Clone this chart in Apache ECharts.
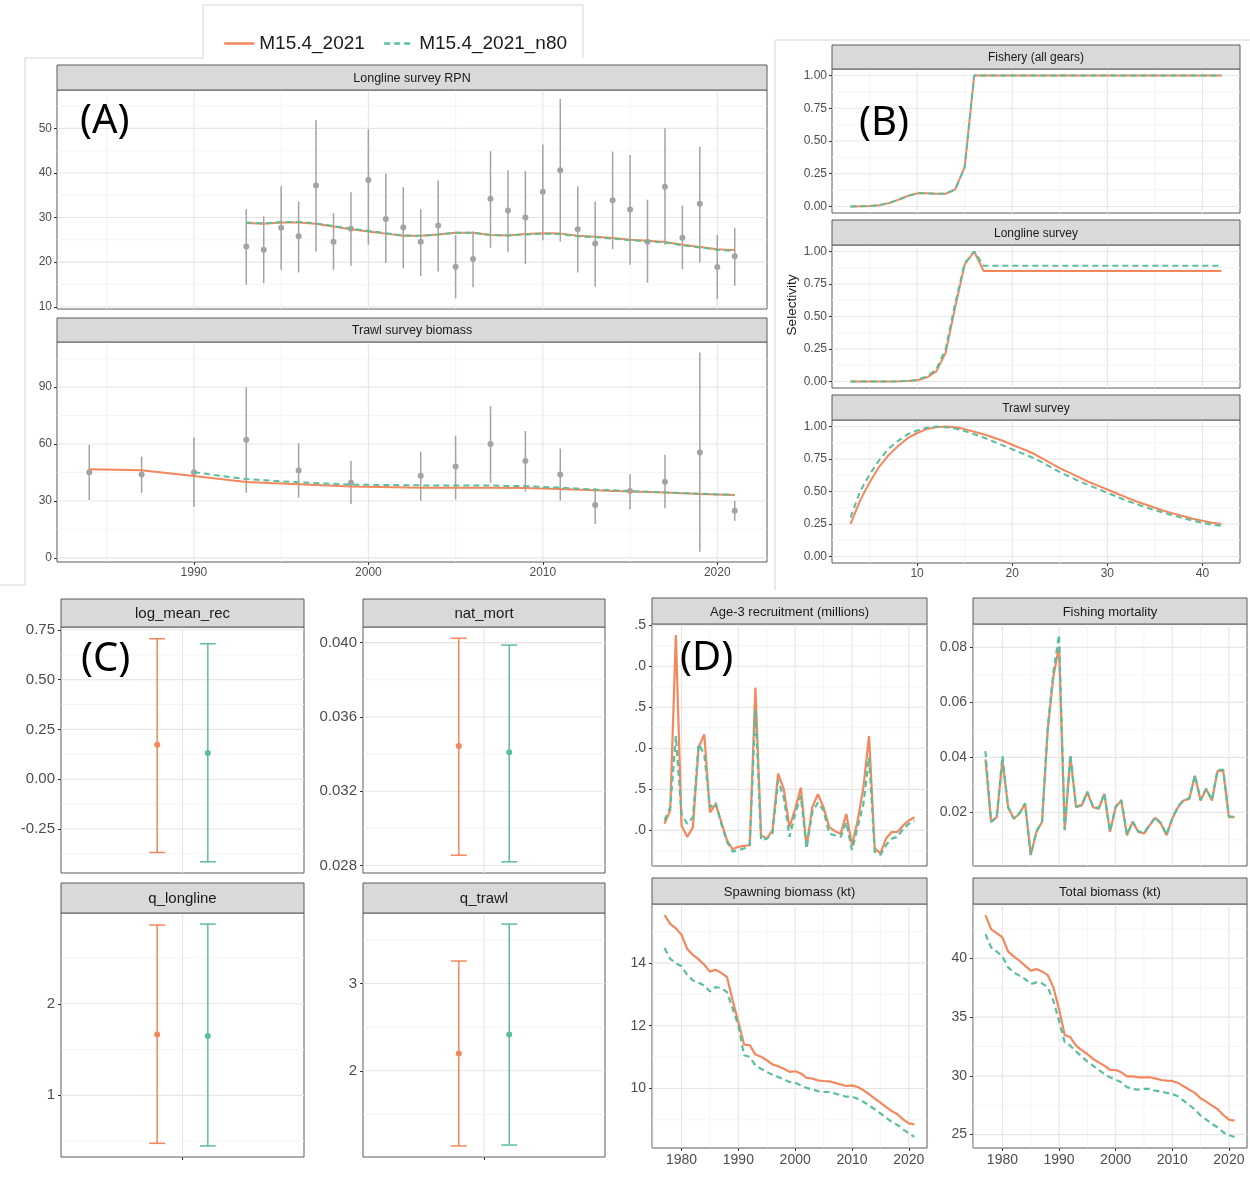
<!DOCTYPE html>
<html>
<head>
<meta charset="utf-8">
<script src="https://cdn.jsdelivr.net/npm/echarts@6/dist/echarts.min.js"></script>
<style>
html, body { margin: 0; padding: 0; background: #fff; }
#main { width: 1250px; height: 1177px; }
</style>
</head>
<body>
<div id="main"></div>
<script>
var FONT = '"Liberation Sans", Arial, sans-serif';
var ORANGE = '#F4875C', GREEN = '#5BBE9C', GREY = '#A3A3A3';
var M1 = 'M15.4_2021', M2 = 'M15.4_2021_n80';

// (A) longline survey RPN
var rpnYears = [1993,1994,1995,1996,1997,1998,1999,2000,2001,2002,2003,2004,2005,2006,2007,2008,2009,2010,2011,2012,2013,2014,2015,2016,2017,2018,2019,2020,2021];
var rpnObs = [23.5,22.8,27.7,25.8,37.2,24.6,27.5,38.4,29.7,27.8,24.6,28.2,19.0,20.7,34.2,31.6,30.0,35.8,40.6,27.4,24.2,33.9,31.8,24.6,36.9,25.5,33.1,18.9,21.3];
var rpnLo = [14.9,15.3,18.3,17.7,22.4,18.3,19.2,23.9,19.8,18.6,16.9,17.9,11.9,14.4,23.2,22.2,19.6,24.9,24.6,17.7,14.5,22.9,19.4,15.4,23.9,18.4,19.9,11.7,14.7];
var rpnHi = [31.9,30.3,37.0,33.6,51.9,31.0,35.7,49.8,39.8,36.8,31.9,38.3,26.1,26.9,44.9,40.6,40.4,46.4,56.6,37.0,33.6,44.8,44.0,34.0,50.0,32.7,45.9,26.1,27.7];
var rpnFit = [28.8,28.6,28.9,28.9,28.6,28.0,27.4,26.9,26.4,25.9,25.9,26.2,26.6,26.6,26.1,26.0,26.3,26.5,26.4,25.9,25.7,25.4,25.0,24.8,24.5,23.9,23.4,22.9,22.7];
var rpnFitN80 = [28.9,28.7,29.0,29.0,28.7,28.1,27.5,27.0,26.5,26.0,25.9,26.2,26.6,26.6,26.1,26.0,26.2,26.4,26.3,25.8,25.6,25.3,24.9,24.7,24.4,23.8,23.3,22.8,22.5];

// (A) trawl survey biomass
var trawlYears = [1984,1987,1990,1993,1996,1999,2003,2005,2007,2009,2011,2013,2015,2017,2019,2021];
var trawlObs = [45.1,43.9,45.1,62.2,46.0,39.6,43.3,48.1,60.0,51.1,43.9,27.8,35.2,40.1,55.6,24.8];
var trawlLo = [30.5,34.3,26.9,34.3,31.7,28.4,30.1,30.8,39.6,34.9,30.1,17.8,25.6,26.1,3.2,19.5];
var trawlHi = [59.5,53.4,63.4,89.8,60.4,51.1,56.0,64.4,80.1,66.9,57.6,37.0,44.2,54.3,108.3,30.1];
var trawlFit = [46.7,46.2,43.2,40.0,38.8,37.6,37.0,37.0,37.0,36.8,36.3,35.6,35.0,34.4,33.7,33.1];
var trawlFitN80 = [null,null,45.1,41.5,39.8,38.6,38.2,38.2,38.1,37.8,37.0,36.0,35.2,34.5,33.8,33.1];

// (B) selectivity at age
var ages = [3,4,5,6,7,8,9,10,11,12,13,14,15,16,17,18,19,20,21,22,23,24,25,26,27,28,29,30,31,32,33,34,35,36,37,38,39,40,41,42];
var selFish = [0,0.001,0.003,0.01,0.025,0.05,0.08,0.1,0.1,0.097,0.097,0.13,0.3,1,1,1,1,1,1,1,1,1,1,1,1,1,1,1,1,1,1,1,1,1,1,1,1,1,1,1];
var selFishN80 = [0,0.001,0.003,0.01,0.025,0.05,0.08,0.1,0.1,0.097,0.097,0.13,0.3,1,1,1,1,1,1,1,1,1,1,1,1,1,1,1,1,1,1,1,1,1,1,1,1,1,1,1];
var selLL = [0,0,0,0,0,0.001,0.003,0.01,0.03,0.076,0.22,0.57,0.9,1,0.85,0.85,0.85,0.85,0.85,0.85,0.85,0.85,0.85,0.85,0.85,0.85,0.85,0.85,0.85,0.85,0.85,0.85,0.85,0.85,0.85,0.85,0.85,0.85,0.85,0.85];
var selLLN80 = [0,0,0,0,0,0.001,0.004,0.013,0.04,0.09,0.25,0.6,0.91,1,0.89,0.89,0.89,0.89,0.89,0.89,0.89,0.89,0.89,0.89,0.89,0.89,0.89,0.89,0.89,0.89,0.89,0.89,0.89,0.89,0.89,0.89,0.89,0.89,0.89,0.89];
var selTrawl = [0.25,0.43,0.57,0.69,0.78,0.85,0.91,0.95,0.98,0.995,1,0.995,0.98,0.96,0.94,0.915,0.89,0.86,0.83,0.8,0.76,0.72,0.68,0.645,0.61,0.575,0.545,0.515,0.485,0.455,0.425,0.4,0.375,0.35,0.33,0.31,0.29,0.275,0.26,0.25];
var selTrawlN80 = [0.3,0.5,0.63,0.74,0.83,0.89,0.94,0.97,0.99,1,0.995,0.985,0.965,0.94,0.915,0.885,0.855,0.825,0.795,0.765,0.73,0.69,0.65,0.615,0.58,0.55,0.52,0.49,0.46,0.43,0.405,0.38,0.355,0.335,0.315,0.295,0.275,0.26,0.245,0.235];

// (C) parameter estimates with intervals
var paramNames = ['log_mean_rec','nat_mort','q_longline','q_trawl'];
var estM15 = [0.173, 0.03443, 1.664, 2.197];
var loM15 = [-0.368, 0.02856, 0.476, 1.14];
var hiM15 = [0.705, 0.04023, 2.86, 3.257];
var estN80 = [0.132, 0.0341, 1.649, 2.416];
var loN80 = [-0.415, 0.0282, 0.448, 1.15];
var hiN80 = [0.68, 0.03987, 2.87, 3.68];

// (D) time series
var years = [];
for (var yr = 1977; yr <= 2021; yr++) years.push(yr);
var recM15 = [1.08,1.24,3.38,1.06,0.92,1.04,2.01,2.17,1.22,1.32,1.10,0.88,0.77,0.80,0.81,0.82,2.74,0.94,0.90,1.00,1.69,1.50,1.04,1.26,1.52,0.80,1.28,1.44,1.28,1.04,0.99,0.96,1.20,0.82,1.12,1.52,2.15,0.78,0.72,0.90,0.98,0.98,1.06,1.12,1.16];
var recN80 = [1.12,1.28,2.15,1.20,1.08,1.16,2.05,1.93,1.28,1.34,1.08,0.86,0.74,0.76,0.78,0.82,2.47,0.88,0.90,0.96,1.61,1.40,0.92,1.20,1.42,0.78,1.22,1.34,1.24,0.96,0.94,0.92,1.10,0.76,1.04,1.32,1.89,0.74,0.70,0.82,0.90,0.92,1.02,1.08,1.12];
var fM15 = [0.0393,0.0165,0.0183,0.039,0.0219,0.0177,0.0195,0.0231,0.0045,0.0129,0.0165,0.050,0.0694,0.0802,0.0135,0.0405,0.0219,0.0225,0.0273,0.0219,0.0213,0.0267,0.0129,0.0219,0.0243,0.0117,0.0165,0.0129,0.0123,0.0153,0.018,0.0159,0.0117,0.0177,0.0219,0.0243,0.0249,0.0333,0.0243,0.0285,0.0243,0.0351,0.0351,0.0183,0.0183];
var fN80 = [0.0423,0.0165,0.0185,0.0405,0.0219,0.0177,0.0197,0.0233,0.0045,0.0131,0.0167,0.051,0.071,0.0845,0.0137,0.041,0.0221,0.0227,0.0275,0.0221,0.0215,0.0269,0.0131,0.0221,0.0245,0.0119,0.0167,0.0131,0.0125,0.0155,0.0182,0.0161,0.0119,0.0179,0.0221,0.0245,0.0251,0.0335,0.0245,0.0287,0.0245,0.0355,0.0355,0.0185,0.0185];
var ssbM15 = [15.52,15.24,15.10,14.89,14.44,14.25,14.11,13.94,13.72,13.78,13.68,13.55,12.80,12.12,11.40,11.38,11.08,11.01,10.90,10.77,10.71,10.63,10.53,10.55,10.48,10.34,10.32,10.26,10.24,10.23,10.18,10.13,10.08,10.10,10.05,9.95,9.82,9.68,9.55,9.41,9.28,9.18,9.02,8.89,8.86];
var ssbN80 = [14.47,14.13,13.99,13.89,13.62,13.44,13.37,13.28,13.09,13.23,13.20,13.07,12.54,12.01,11.06,11.01,10.74,10.63,10.53,10.44,10.37,10.29,10.21,10.18,10.10,10.02,9.97,9.92,9.89,9.89,9.84,9.79,9.74,9.74,9.67,9.58,9.46,9.34,9.21,9.07,8.94,8.84,8.70,8.57,8.46];
var totM15 = [43.69,42.49,42.15,41.79,40.57,40.17,39.80,39.38,38.95,39.09,38.89,38.58,37.53,35.69,33.48,33.28,32.57,32.20,31.86,31.44,31.15,30.87,30.50,30.50,30.30,29.96,29.96,29.88,29.88,29.88,29.79,29.65,29.59,29.57,29.40,29.11,28.83,28.55,28.09,27.81,27.47,27.18,26.67,26.28,26.19];
var totN80 = [42.07,40.94,40.57,40.17,39.23,38.81,38.53,38.24,37.82,37.96,37.87,37.53,36.40,34.70,32.86,32.57,32.06,31.66,31.21,30.87,30.50,30.16,29.88,29.68,29.45,29.03,28.89,28.83,28.89,28.89,28.74,28.66,28.55,28.46,28.26,27.89,27.52,27.13,26.62,26.28,25.91,25.63,25.20,24.95,24.80];

var grids = [], xAxes = [], yAxes = [], series = [], graphics = [];

function axisOpt(i, a, fs, show) {
	return {
		gridIndex: i, type: 'value', min: a.min, max: a.max,
		splitLine: {show: false},
		axisLine: {show: false, onZero: false},
		axisTick: {show: show, customValues: a.major, length: 3, lineStyle: {color: '#333', width: 1}},
		axisLabel: {show: show, customValues: a.major, formatter: a.fmt, color: '#4D4D4D',
			fontSize: fs, fontFamily: FONT, margin: a.margin || 5, showMinLabel: true, showMaxLabel: true}
	};
}

function gridRender(params, api) {
	var cs = params.coordSys;
	var pt = api.coord([api.value(0), api.value(1)]);
	var minor = api.value(3) === 1;
	var shape = api.value(2) === 0
		? {x1: pt[0], y1: cs.y, x2: pt[0], y2: cs.y + cs.height}
		: {x1: cs.x, y1: pt[1], x2: cs.x + cs.width, y2: pt[1]};
	return {type: 'line', shape: shape, style: {stroke: minor ? '#F3F3F3' : '#E6E6E6', lineWidth: minor ? 0.8 : 1.1}};
}

function addPanel(p) {
	var i = grids.length;
	grids.push({left: p.left, top: p.top, width: p.width, height: p.height, show: true,
		borderColor: '#5a5a5a', borderWidth: 1, backgroundColor: '#fff', outerBoundsMode: 'none'});
	xAxes.push(axisOpt(i, p.x, p.fs, p.x.show));
	yAxes.push(axisOpt(i, p.y, p.fs, true));
	var gl = [];
	(p.x.minor || []).forEach(function (v) { gl.push([v, p.y.min, 0, 1]); });
	p.x.major.forEach(function (v) { gl.push([v, p.y.min, 0, 0]); });
	(p.y.minor || []).forEach(function (v) { gl.push([p.x.min, v, 1, 1]); });
	p.y.major.forEach(function (v) { gl.push([p.x.min, v, 1, 0]); });
	series.push({type: 'custom', xAxisIndex: i, yAxisIndex: i, silent: true, z: 1,
		data: gl, renderItem: gridRender, animation: false});
	graphics.push({type: 'rect', z: 10, silent: true,
		shape: {x: p.left, y: p.top - p.stripH, width: p.width, height: p.stripH},
		style: {fill: '#D9D9D9', stroke: '#5a5a5a', lineWidth: 1}});
	graphics.push({type: 'text', z: 11, silent: true, x: p.left + p.width / 2, y: p.top - p.stripH / 2 + 1,
		style: {text: p.strip, fill: '#1A1A1A', fontSize: p.sfs, fontFamily: FONT,
			textAlign: 'center', textVerticalAlign: 'middle', align: 'center', verticalAlign: 'middle'}});
	return i;
}

function lineSeries(gi, name, xs, ys, dashed, w) {
	return {type: 'line', name: name, xAxisIndex: gi, yAxisIndex: gi,
		data: xs.map(function (x, k) { return [x, ys[k]]; }),
		symbol: 'none', showSymbol: false, silent: true, z: dashed ? 5 : 4,
		itemStyle: {color: dashed ? GREEN : ORANGE},
		lineStyle: {color: dashed ? GREEN : ORANGE, width: w || 2, type: dashed ? [6, 4] : 'solid'}};
}

function errRender(cap, w) {
	return function (params, api) {
		var x = api.value(0);
		var lo = api.coord([x, api.value(1)]), hi = api.coord([x, api.value(2)]);
		var st = {stroke: api.visual('color'), lineWidth: w};
		var ch = [{type: 'line', shape: {x1: lo[0], y1: lo[1], x2: hi[0], y2: hi[1]}, style: st}];
		if (cap) {
			ch.push({type: 'line', shape: {x1: lo[0] - cap, y1: lo[1], x2: lo[0] + cap, y2: lo[1]}, style: st});
			ch.push({type: 'line', shape: {x1: hi[0] - cap, y1: hi[1], x2: hi[0] + cap, y2: hi[1]}, style: st});
		}
		return {type: 'group', children: ch};
	};
}

function errSeries(gi, xs, lo, hi, color, cap, w) {
	return {type: 'custom', xAxisIndex: gi, yAxisIndex: gi, silent: true, z: 3,
		data: xs.map(function (x, k) { return [x, lo[k], hi[k]]; }),
		encode: {x: 0, y: [1, 2]}, itemStyle: {color: color}, renderItem: errRender(cap, w)};
}

function pointSeries(gi, xs, ys, color, size) {
	return {type: 'scatter', xAxisIndex: gi, yAxisIndex: gi, silent: true, z: 3,
		data: xs.map(function (x, k) { return [x, ys[k]]; }),
		symbolSize: size, itemStyle: {color: color, opacity: 1}};
}

var intFmt = function (v) { return String(Math.round(v)); };
var fix2 = function (v) { return v.toFixed(2); };

// ---------- (A) ----------
var yearAxisA = {min: 1982.15, max: 2022.85, major: [1990, 2000, 2010, 2020], minor: [1985, 1995, 2005, 2015], fmt: intFmt};
var a1 = addPanel({left: 57, top: 90, width: 710, height: 219, stripH: 25, strip: 'Longline survey RPN', sfs: 12.5, fs: 12,
	x: Object.assign({show: false}, yearAxisA),
	y: {min: 9.5, max: 58.6, major: [10, 20, 30, 40, 50], minor: [15, 25, 35, 45, 55], fmt: intFmt}});
var a2 = addPanel({left: 57, top: 342, width: 710, height: 220, stripH: 24, strip: 'Trawl survey biomass', sfs: 12.5, fs: 12,
	x: Object.assign({show: true}, yearAxisA),
	y: {min: -2.2, max: 113.8, major: [0, 30, 60, 90], minor: [15, 45, 75, 105], fmt: intFmt}});

// ---------- (B) ----------
var ageAxis = {min: 1.05, max: 43.95, major: [10, 20, 30, 40], minor: [5, 15, 25, 35], fmt: intFmt};
var selAxis = {min: -0.05, max: 1.05, major: [0, 0.25, 0.5, 0.75, 1], minor: [0.125, 0.375, 0.625, 0.875], fmt: fix2};
var b1 = addPanel({left: 832, top: 69, width: 408, height: 144, stripH: 24, strip: 'Fishery (all gears)', sfs: 12, fs: 12,
	x: Object.assign({show: false}, ageAxis), y: selAxis});
var b2 = addPanel({left: 832, top: 245, width: 408, height: 143, stripH: 25, strip: 'Longline survey', sfs: 12, fs: 12,
	x: Object.assign({show: false}, ageAxis), y: selAxis});
var b3 = addPanel({left: 832, top: 420, width: 408, height: 143, stripH: 25, strip: 'Trawl survey', sfs: 12, fs: 12,
	x: Object.assign({show: true}, ageAxis), y: selAxis});

// ---------- (C) ----------
var cAxisTop = {show: false, min: 0.4, max: 1.6, major: [1], minor: [], fmt: function () { return ''; }};
var cAxisBot = {show: true, min: 0.4, max: 1.6, major: [1], minor: [], fmt: function () { return ''; }};
var cPanels = [
	addPanel({left: 61, top: 627, width: 243, height: 246, stripH: 28, strip: paramNames[0], sfs: 15, fs: 15, x: cAxisTop,
		y: {min: -0.471, max: 0.764, major: [-0.25, 0, 0.25, 0.5, 0.75], minor: [-0.375, -0.125, 0.125, 0.375, 0.625], fmt: fix2, margin: 6}}),
	addPanel({left: 363, top: 627, width: 242, height: 246, stripH: 28, strip: paramNames[1], sfs: 15, fs: 15, x: cAxisTop,
		y: {min: 0.0276, max: 0.04084, major: [0.028, 0.032, 0.036, 0.040], minor: [0.030, 0.034, 0.038], fmt: function (v) { return v.toFixed(3); }, margin: 6}}),
	addPanel({left: 61, top: 913, width: 243, height: 244, stripH: 30, strip: paramNames[2], sfs: 15, fs: 15, x: cAxisBot,
		y: {min: 0.327, max: 2.991, major: [1, 2], minor: [0.5, 1.5, 2.5], fmt: intFmt, margin: 6}}),
	addPanel({left: 363, top: 913, width: 242, height: 244, stripH: 30, strip: paramNames[3], sfs: 15, fs: 15, x: cAxisBot,
		y: {min: 1.013, max: 3.807, major: [2, 3], minor: [1.5, 2.5, 3.5], fmt: intFmt, margin: 6}})
];

// ---------- (D) ----------
var yearAxisD = {min: 1974.8, max: 2023.2, major: [1980, 1990, 2000, 2010, 2020], minor: [1975, 1985, 1995, 2005, 2015], fmt: intFmt};
var d1 = addPanel({left: 652, top: 624, width: 275, height: 242, stripH: 26, strip: 'Age-3 recruitment (millions)', sfs: 13, fs: 14,
	x: Object.assign({show: false}, yearAxisD),
	y: {min: 0.566, max: 3.514, major: [1, 1.5, 2, 2.5, 3, 3.5], minor: [0.75, 1.25, 1.75, 2.25, 2.75, 3.25],
		fmt: function (v) { return '.' + v.toFixed(1).split('.')[1]; }, margin: 6}});
var d2 = addPanel({left: 973, top: 624, width: 274, height: 242, stripH: 26, strip: 'Fishing mortality', sfs: 13, fs: 14,
	x: Object.assign({show: false}, yearAxisD),
	y: {min: 0.0005, max: 0.0885, major: [0.02, 0.04, 0.06, 0.08], minor: [0.01, 0.03, 0.05, 0.07], fmt: fix2, margin: 6}});
var d3 = addPanel({left: 652, top: 904, width: 275, height: 244, stripH: 26, strip: 'Spawning biomass (kt)', sfs: 13, fs: 14,
	x: Object.assign({show: true}, yearAxisD),
	y: {min: 8.107, max: 15.873, major: [10, 12, 14], minor: [9, 11, 13, 15], fmt: intFmt, margin: 6}});
var d4 = addPanel({left: 973, top: 904, width: 274, height: 244, stripH: 26, strip: 'Total biomass (kt)', sfs: 13, fs: 14,
	x: Object.assign({show: true}, yearAxisD),
	y: {min: 23.86, max: 44.63, major: [25, 30, 35, 40], minor: [27.5, 32.5, 37.5, 42.5], fmt: intFmt, margin: 6}});

// ---------- series ----------
series.push(errSeries(a1, rpnYears, rpnLo, rpnHi, GREY, 0, 1.5));
series.push(pointSeries(a1, rpnYears, rpnObs, GREY, 6));
series.push(lineSeries(a1, M1, rpnYears, rpnFit, false));
series.push(lineSeries(a1, M2, rpnYears, rpnFitN80, true));

series.push(errSeries(a2, trawlYears, trawlLo, trawlHi, GREY, 0, 1.5));
series.push(pointSeries(a2, trawlYears, trawlObs, GREY, 6));
series.push(lineSeries(a2, M1, trawlYears, trawlFit, false));
series.push(lineSeries(a2, M2, trawlYears, trawlFitN80, true));

series.push(lineSeries(b1, M1, ages, selFish, false));
series.push(lineSeries(b1, M2, ages, selFishN80, true));
series.push(lineSeries(b2, M1, ages, selLL, false));
series.push(lineSeries(b2, M2, ages, selLLN80, true));
series.push(lineSeries(b3, M1, ages, selTrawl, false));
series.push(lineSeries(b3, M2, ages, selTrawlN80, true));

// dodge: two models side by side around the single category at x = 1
var dodge = 0.125;
cPanels.forEach(function (gi, k) {
	series.push(errSeries(gi, [1 - dodge], [loM15[k]], [hiM15[k]], ORANGE, 8, 1.5));
	series.push(pointSeries(gi, [1 - dodge], [estM15[k]], ORANGE, 6));
	series.push(errSeries(gi, [1 + dodge], [loN80[k]], [hiN80[k]], GREEN, 8, 1.5));
	series.push(pointSeries(gi, [1 + dodge], [estN80[k]], GREEN, 6));
});

series.push(lineSeries(d1, M1, years, recM15, false, 2.2));
series.push(lineSeries(d1, M2, years, recN80, true, 2.2));
series.push(lineSeries(d2, M1, years, fM15, false, 2.2));
series.push(lineSeries(d2, M2, years, fN80, true, 2.2));
series.push(lineSeries(d3, M1, years, ssbM15, false, 2.2));
series.push(lineSeries(d3, M2, years, ssbN80, true, 2.2));
series.push(lineSeries(d4, M1, years, totM15, false, 2.2));
series.push(lineSeries(d4, M2, years, totN80, true, 2.2));

// panel letters, axis title, frame lines of the composed figure
function letter(t, x, y) {
	return {type: 'text', z: 12, silent: true, x: x, y: y,
		style: {text: t, fill: '#000', fontSize: 40, fontFamily: '"Noto Sans", "Open Sans", sans-serif',
			textAlign: 'left', textVerticalAlign: 'middle', align: 'left', verticalAlign: 'middle'}};
}
graphics.push(letter('(A)', 80, 122));
graphics.push(letter('(B)', 859, 124));
graphics.push(letter('(C)', 81, 660));
graphics.push(letter('(D)', 680, 659));
graphics.push({type: 'text', z: 12, silent: true, x: 792, y: 305, rotation: Math.PI / 2,
	style: {text: 'Selectivity', fill: '#1A1A1A', fontSize: 13.5, fontFamily: FONT,
		textAlign: 'center', textVerticalAlign: 'middle', align: 'center', verticalAlign: 'middle'}});
var frame = [[25, 58, 25, 585], [25, 58, 203, 58], [203, 5, 203, 58], [583, 5, 583, 58], [203, 5, 583, 5],
	[775, 40, 1250, 40], [775, 40, 775, 590], [0, 585, 25, 585]];
frame.forEach(function (s) {
	graphics.push({type: 'line', z: 0, silent: true, shape: {x1: s[0], y1: s[1], x2: s[2], y2: s[3]},
		style: {stroke: '#D6D6D6', lineWidth: 1}});
});

var chart = echarts.init(document.getElementById('main'), null, {renderer: 'canvas'});
chart.setOption({
	animation: false,
	backgroundColor: '#fff',
	legend: {
		data: [M1, M2], left: 218, top: 29, itemWidth: 30, itemHeight: 16, itemGap: 18,
		selectedMode: false,
		itemStyle: {opacity: 0},
		lineStyle: {width: 2.5},
		textStyle: {fontSize: 19, color: '#1A1A1A', fontFamily: FONT}
	},
	grid: grids,
	xAxis: xAxes,
	yAxis: yAxes,
	series: series,
	graphic: {elements: graphics}
});
</script>
</body>
</html>
